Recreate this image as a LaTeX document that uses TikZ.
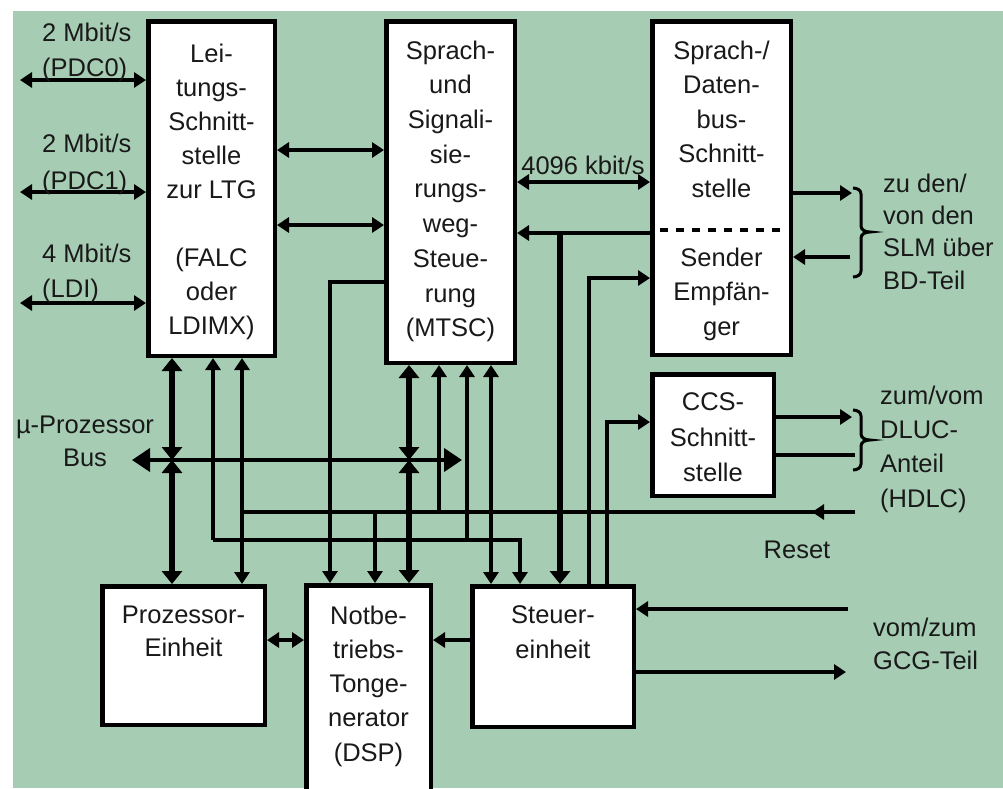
\documentclass[tikz,border=0pt]{standalone}
\usepackage{fontspec}
\setmainfont{Liberation Sans}
\usetikzlibrary{arrows.meta}
\definecolor{bg}{RGB}{166,205,179}
\definecolor{ink}{RGB}{25,25,25}
\begin{document}
\begin{tikzpicture}[x=1pt,y=-1pt,
  box/.style={draw=black, fill=white, line width=4.5pt, rectangle, inner sep=0pt, anchor=north west},
  txt/.style={font=\fontsize{25.5}{34}\selectfont, text=ink, align=center, inner sep=0pt, anchor=north},
  lbl/.style={font=\fontsize{25.5}{34}\selectfont, text=ink, align=left, inner sep=0pt, anchor=north west},
  wthin/.style={line width=3.2pt},
  wmed/.style={line width=4pt},
  wthick/.style={line width=5.5pt},
  >={Triangle[length=12pt,width=15pt]},
  bigtip/.style={>={Triangle[length=13pt,width=20pt]}},
  bustip/.style={>={Triangle[length=18pt,width=23pt]}},
]
\useasboundingbox (0,0) rectangle (1003,788);
\clip (0,0) rectangle (1003,788);
\fill[white] (0,0) rectangle (1003,788);
\fill[bg] (13,11) rectangle (1003,788);

% boxes
\node[box, minimum width=126.5pt, minimum height=334.5pt] (ltg) at (146,19) {};
\node[box, minimum width=128.5pt, minimum height=341.5pt] (mtsc) at (384,19) {};
\node[box, minimum width=138.5pt, minimum height=333.5pt] (sdb) at (650,19) {};
\node[box, minimum width=121.5pt, minimum height=121.5pt] (ccs) at (650,372) {};
\node[box, minimum width=162.5pt, minimum height=138.5pt] (proz) at (100,584) {};
\node[box, minimum width=124.5pt, minimum height=225.5pt] (dsp) at (304,583) {};
\node[box, minimum width=161.5pt, minimum height=140.5pt] (steu) at (470,584) {};

% dotted separator
\draw[line width=4pt, dash pattern=on 8pt off 8pt] (660,230) -- (780,230);

% box texts
\node[txt] (ltgT) at (211.5,43.5) {Lei-\\tungs-\\Schnitt-\\stelle\\zur LTG\\[34pt](FALC\\oder\\LDIMX)};
\node[txt, font=\fontsize{25.5}{34.7}\selectfont] (mtscT) at (450.5,40.5) {Sprach-\\und\\Signali-\\sie-\\rungs-\\weg-\\Steue-\\rung\\(MTSC)};
\node[txt, font=\fontsize{25.5}{34.5}\selectfont] (sdbT) at (721.5,40.5) {Sprach-/\\Daten-\\bus-\\Schnitt-\\stelle\\[34.5pt]Sender\\Empfän-\\ger};
\node[txt, font=\fontsize{25.5}{35.5}\selectfont] (ccsT) at (713,392.5) {CCS-\\Schnitt-\\stelle};
\node[txt, font=\fontsize{25.5}{33}\selectfont] (prozT) at (183.5,605.5) {Prozessor-\\Einheit};
\node[txt, font=\fontsize{25.5}{34.25}\selectfont] (dspT) at (368.5,605.5) {Notbe-\\triebs-\\Tonge-\\nerator\\(DSP)};
\node[txt, font=\fontsize{25.5}{35}\selectfont] (steuT) at (553,605.5) {Steuer-\\einheit};

% coordinates
\coordinate (e0) at (20,80);
\coordinate (e1) at (20,192);
\coordinate (e2) at (20,303);
\coordinate (y150) at (0,150);
\coordinate (y225) at (0,225);
\coordinate (y182) at (0,182);
\coordinate (y233) at (0,233);
\coordinate (y640) at (0,640);
\coordinate (j560) at (560,233);
\coordinate (k589) at (589,278);
\coordinate (k607) at (607,422);
\coordinate (k330) at (330,282);
\coordinate (busL) at (132,460);
\coordinate (busR) at (462,460);
\coordinate (b172) at (172,460);
\coordinate (b409) at (409,460);
\coordinate (m213) at (213,540);
\coordinate (m467) at (467,540);
\coordinate (m520) at (520,540);
\coordinate (r242) at (242,512);
\coordinate (r375) at (375,512);
\coordinate (r439) at (439,512);
\coordinate (rst) at (855,512);
\coordinate (rstA) at (812,512);
\coordinate (x491) at (491,0);
\coordinate (o193) at (852,193);
\coordinate (i257) at (850,257);
\coordinate (o417) at (852,417);
\coordinate (i455) at (855,455);
\coordinate (i609) at (848,609);
\coordinate (o672) at (846,672);

% left external links
\draw[wmed,<->] (e0) -- (e0 -| ltg.west);
\draw[wmed,<->] (e1) -- (e1 -| ltg.west);
\draw[wmed,<->] (e2) -- (e2 -| ltg.west);

% LTG - MTSC
\draw[wmed,<->] (ltg.east |- y150) -- (mtsc.west |- y150);
\draw[wmed,<->] (ltg.east |- y225) -- (mtsc.west |- y225);

% MTSC - SDB
\draw[wmed,<->] (mtsc.east |- y182) -- (sdb.west |- y182);
\draw[wmed,->] (sdb.west |- y233) -- (mtsc.east |- y233);
\draw[wthick,->,bigtip] (j560) -- (steu.north -| j560);
\draw[wmed,->] (steu.north -| k589) -- (k589) -- (sdb.west |- k589);
\draw[wthin,->] (steu.north -| k607) -- (k607) -- (ccs.west |- k607);
\draw[wmed,->] (mtsc.west |- k330) -- (k330) -- (dsp.north -| k330);

% bus
\draw[wmed,<->,bustip] (busL) -- (busR);
\draw[wthick,<->,bigtip] (ltg.south -| b172) -- (b172);
\draw[wthick,<->,bigtip] (b172) -- (proz.north -| b172);
\draw[wthick,<->,bigtip] (mtsc.south -| b409) -- (b409);
\draw[wthick,<->,bigtip] (b409) -- (dsp.north -| b409);

% 540 distribution
\draw[wthin,->] (m213) -- (ltg.south -| m213);
\draw[wthin,->] (m467) -- (mtsc.south -| m467);
\draw[wthin,->] (m213) -- (m520) -- (steu.north -| m520);

% Reset distribution
\draw[wthin] (rst) -- (r242);
\draw[wthin,->] (rst) -- (rstA);
\draw[wthin,<->] (ltg.south -| r242) -- (proz.north -| r242);
\draw[wthin,->] (r375) -- (dsp.north -| r375);
\draw[wthin,->] (r439) -- (mtsc.south -| r439);

% MTSC - Steuer
\draw[wthin,<->] (mtsc.south -| x491) -- (steu.north -| x491);

% bottom row
\draw[wmed,<->] (proz.east |- y640) -- (dsp.west |- y640);
\draw[wthin,->] (steu.west |- y640) -- (dsp.east |- y640);

% right side
\draw[wthin,->] (sdb.east |- o193) -- (o193);
\draw[wthin,->] (i257) -- (sdb.east |- i257);
\draw[wthin,->] (ccs.east |- o417) -- (o417);
\draw[wthin] (i455) -- (ccs.east |- i455);
\draw[wmed,->] (i609) -- (steu.east |- i609);
\draw[wmed,->] (steu.east |- o672) -- (o672);

% braces
\draw[line width=3pt] (853,188) to[out=0,in=90] (861,194) -- (861,226) to[out=-90,in=180] (870,232) to[out=180,in=90] (861,238) -- (861,271) to[out=-90,in=0] (853,277);
\draw[line width=3pt] (853,410) to[out=0,in=90] (861,416) -- (861,434) to[out=-90,in=180] (870,440) to[out=180,in=90] (861,446) -- (861,464) to[out=-90,in=0] (853,470);

% labels
\node[lbl, font=\fontsize{25.5}{35}\selectfont] (l0) at (42,22.5) {2 Mbit/s\\(PDC0)};
\node[lbl, font=\fontsize{25.5}{37}\selectfont] (l1) at (42,133.5) {2 Mbit/s\\(PDC1)};
\node[lbl, font=\fontsize{25.5}{35}\selectfont] (l2) at (42,243.5) {4 Mbit/s\\(LDI)};
\node[txt, font=\fontsize{25.5}{33}\selectfont] (mu) at (85,415.5) {µ-Prozessor\\Bus};
\node[txt, anchor=center] (rate) at (583,165) {4096 kbit/s};
\node[lbl, font=\fontsize{25.5}{32.3}\selectfont] (slm) at (883,173.5) {zu den/\\von den\\SLM über\\BD-Teil};
\node[lbl, font=\fontsize{25.5}{34.3}\selectfont] (dluc) at (880,385.5) {zum/vom\\DLUC-\\Anteil\\(HDLC)};
\node[txt, anchor=center] (reset) at (797,550) {Reset};
\node[lbl, font=\fontsize{25.5}{33}\selectfont] (gcg) at (873,617.5) {vom/zum\\GCG-Teil};
\end{tikzpicture}
\end{document}
